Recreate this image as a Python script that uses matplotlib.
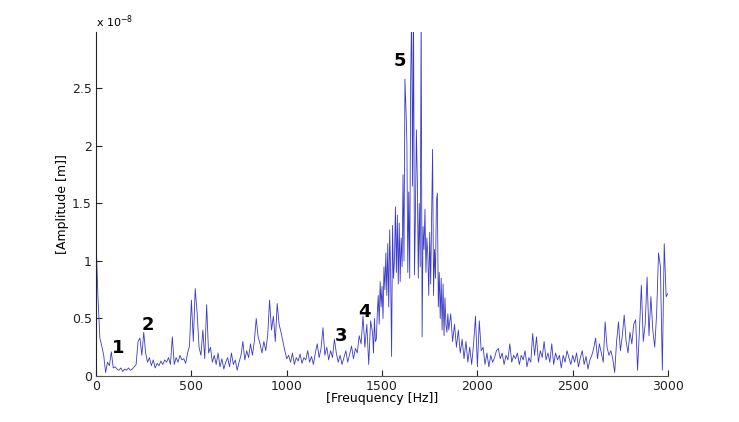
import numpy as np
import matplotlib
matplotlib.use("Agg")
import matplotlib.pyplot as plt

# Amplitude (x 1e-8 m).
# Part A: 0 .. 1440 Hz every 10 Hz
amp_low = [
    1.18, 0.68, 0.33, 0.26, 0.18, 0.03, 0.12, 0.09, 0.21, 0.07,
    0.08, 0.06, 0.05, 0.07, 0.04, 0.06, 0.05, 0.07, 0.05, 0.06,
    0.08, 0.10, 0.30, 0.33, 0.18, 0.38, 0.20, 0.12, 0.16, 0.09,
    0.14, 0.07, 0.11, 0.09, 0.13, 0.10, 0.14, 0.12, 0.16, 0.10,
    0.34, 0.10, 0.16, 0.12, 0.18, 0.14, 0.15, 0.11, 0.20, 0.26,
    0.66, 0.30, 0.76, 0.55, 0.25, 0.18, 0.40, 0.15, 0.62, 0.20,
    0.25, 0.12, 0.18, 0.10, 0.20, 0.08, 0.15, 0.06, 0.12, 0.16,
    0.08, 0.20, 0.10, 0.14, 0.05, 0.12, 0.18, 0.30, 0.14, 0.22,
    0.16, 0.28, 0.18, 0.30, 0.50, 0.34, 0.28, 0.20, 0.30, 0.22,
    0.35, 0.66, 0.40, 0.52, 0.30, 0.63, 0.45, 0.38, 0.30, 0.22,
    0.15, 0.18, 0.12, 0.20, 0.10, 0.16, 0.13, 0.19, 0.11, 0.16,
    0.14, 0.22, 0.12, 0.17, 0.10, 0.20, 0.28, 0.16, 0.24, 0.42,
    0.18, 0.25, 0.14, 0.22, 0.16, 0.32, 0.20, 0.12, 0.18, 0.10,
    0.16, 0.22, 0.12, 0.19, 0.26, 0.15, 0.24, 0.20, 0.35, 0.28,
    0.52, 0.25, 0.45, 0.10, 0.48,
]
# Part B: 1450 .. 1845 Hz every 5 Hz (resonance region)
amp_peak = [
    0.38, 0.20, 0.50, 0.30, 0.32, 0.55, 0.70, 0.45, 0.82, 0.60,
    0.78, 0.50, 0.95, 0.75, 1.07, 0.70, 1.15, 0.60, 1.27, 0.90,
    0.17, 1.31, 0.85, 1.00, 1.47, 0.90, 1.40, 0.80, 1.33, 0.82,
    1.20, 0.95, 1.75, 1.00, 2.58, 2.34, 2.05, 0.90, 1.60, 0.85,
    2.55, 3.20, 1.65, 3.20, 0.88, 1.40, 2.14, 1.70, 0.85, 1.50,
    0.95, 3.20, 0.34, 1.30, 1.10, 1.45, 0.90, 1.20, 1.05, 0.70,
    1.25, 0.80, 1.40, 1.97, 0.70, 1.10, 0.85, 1.52, 1.59, 0.60,
    0.90, 0.50, 0.85, 0.40, 0.80, 0.35, 0.68, 0.45, 0.38, 0.54,
]
# Part C: 1850 .. 3000 Hz every 10 Hz
amp_high = [
    0.40, 0.54, 0.30, 0.45, 0.25,
    0.40, 0.20, 0.32, 0.15, 0.30, 0.12, 0.25, 0.10, 0.28, 0.52,
    0.08, 0.48, 0.22, 0.25, 0.10, 0.20, 0.08, 0.18, 0.12, 0.16,
    0.22, 0.24, 0.15, 0.20, 0.10, 0.18, 0.14, 0.28, 0.12, 0.18,
    0.15, 0.20, 0.10, 0.18, 0.14, 0.22, 0.08, 0.16, 0.12, 0.37,
    0.18, 0.34, 0.12, 0.22, 0.16, 0.30, 0.14, 0.20, 0.12, 0.28,
    0.10, 0.20, 0.14, 0.18, 0.07, 0.18, 0.12, 0.22, 0.16, 0.10,
    0.18, 0.12, 0.20, 0.08, 0.16, 0.22, 0.10, 0.17, 0.06, 0.14,
    0.18, 0.24, 0.33, 0.15, 0.28, 0.20, 0.12, 0.47, 0.25, 0.18,
    0.22, 0.15, 0.03, 0.30, 0.47, 0.22, 0.35, 0.53, 0.30, 0.20,
    0.38, 0.28, 0.45, 0.49, 0.05, 0.40, 0.79, 0.30, 0.45, 0.86,
    0.35, 0.69, 0.40, 0.25, 0.54, 1.07, 0.95, 0.05, 1.15, 0.69,
    0.72,
]
freq_low = 0 + 10 * np.arange(len(amp_low))
freq_peak = 1450 + 5 * np.arange(len(amp_peak))
freq_high = 1850 + 10 * np.arange(len(amp_high))
freq = np.concatenate([freq_low, freq_peak, freq_high])
amplitude = np.concatenate([amp_low, amp_peak, amp_high])

x_ticks = [0, 500, 1000, 1500, 2000, 2500, 3000]
y_ticks = [0, 0.5, 1, 1.5, 2, 2.5]
y_tick_labels = ["0", "0.5", "1", "1.5", "2", "2.5"]

mark_labels = ["1", "2", "3", "4", "5"]
mark_freq = [115, 273, 1283, 1407, 1594]
mark_amp = [0.24, 0.44, 0.35, 0.56, 2.74]

fig = plt.figure(figsize=(7.39, 4.22), dpi=100)
ax = fig.add_axes([0.130, 0.109, 0.774, 0.815])
ax.plot(freq, amplitude, color="#3a3ac8", linewidth=0.6)
ax.set_xlim(0, 3000)
ax.set_ylim(0, 2.99)
ax.set_xticks(x_ticks)
ax.set_yticks(y_ticks)
ax.set_yticklabels(y_tick_labels)
for s in ["top", "right"]:
    ax.spines[s].set_visible(False)
ax.spines["left"].set_color("#222222")
ax.spines["bottom"].set_color("#555555")
ax.tick_params(direction="in", length=4, labelsize=9, colors="#222222", pad=3)

ax.set_xlabel("[Freuquency [Hz]]", fontsize=9, labelpad=-1)
ax.set_ylabel("[Amplitude [m]]", fontsize=9, labelpad=2)
ax.text(0, 1.005, r"x 10$^{-8}$", transform=ax.transAxes, fontsize=8,
        ha="left", va="bottom")

for lab, f, a in zip(mark_labels, mark_freq, mark_amp):
    ax.text(f, a, lab, fontsize=13, fontweight="bold", ha="center", va="center")

fig.savefig("out.png", dpi=100)
